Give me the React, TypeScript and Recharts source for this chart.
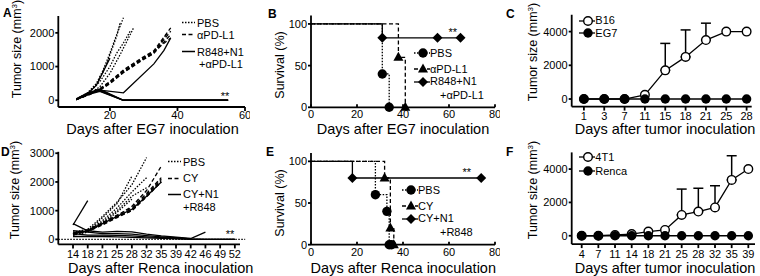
import { LineChart, Line, XAxis, YAxis, ErrorBar, ReferenceLine } from 'recharts'

const FONT = '"Liberation Sans", Arial, Helvetica, sans-serif'

// ---- A: EG7, single mice (day, tumor size mm3)
const A_PBS = [
  { days: [10, 13, 16, 18, 20, 22, 24], size: [30, 180, 500, 900, 1400, 1950, 2450] },
  { days: [10, 13, 16, 18, 20, 22, 23], size: [20, 150, 450, 850, 1350, 1900, 2300] },
  { days: [10, 14, 17, 20, 23, 25, 27], size: [20, 200, 400, 800, 1350, 1750, 2150] },
  { days: [10, 14, 17, 20, 22, 24, 26], size: [30, 250, 550, 1000, 1400, 1700, 2050] },
]
const A_APDL1 = [
  { days: [10, 14, 17, 20, 24, 29, 33, 38], size: [30, 220, 350, 560, 900, 1230, 1470, 2150] },
  { days: [10, 14, 17, 20, 24, 29, 33, 38], size: [20, 190, 320, 520, 850, 1180, 1420, 2050] },
  { days: [10, 14, 17, 20, 24, 29, 33, 38], size: [20, 170, 300, 490, 820, 1150, 1390, 1950] },
  { days: [10, 14, 17, 20, 24, 29, 33, 38], size: [30, 200, 330, 540, 880, 1200, 1450, 1850] },
  { days: [10, 14, 17, 20, 24, 29, 33, 37], size: [20, 180, 310, 510, 830, 1170, 1400, 2000] },
]
const A_COMBO = [
  { days: [10, 14, 17, 24, 33, 36, 38], size: [30, 200, 300, 220, 1080, 1480, 1850] },
  { days: [10, 14, 16, 20], size: [40, 250, 450, 1250] },
  { days: [10, 14, 17, 24, 55], size: [30, 230, 330, 0, 0] },
  { days: [10, 14, 17, 24, 55], size: [20, 200, 300, 0, 0] },
  { days: [10, 14, 17, 24, 55], size: [30, 240, 280, 0, 0] },
  { days: [10, 14, 17, 24, 55], size: [20, 180, 260, 0, 0] },
]

// ---- B: EG7 survival (day, % surviving)
const B_PBS = { t: [0, 31, 34], s: [100, 40, 0] }
const B_APDL1 = { t: [0, 38, 41], s: [100, 60, 0] }
const B_COMBO = { t: [0, 31, 55, 65], s: [100, 83.3, 83.3, 83.3] }

// ---- C: B16 vs EG7 growth
const C_DAYS = ['1', '3', '7', '11', '15', '18', '21', '25', '28']
const C_B16 = [0, 0, 0, 250, 1700, 2500, 3500, 4000, 4000]
const C_B16_SD = [null, null, null, null, 1600, 1600, 1000, null, null]
const C_EG7 = [0, 0, 0, 0, 0, 0, 0, 0, 0]

// ---- D: Renca, single mice (values at each measurement day)
const D_DAYS = ['14', '18', '21', '25', '28', '32', '35', '39', '42', '46', '49', '52']
const D_PBS = [
  [250, 350, 800, 1300, 1900, 2850],
  [200, 300, 750, 1250, 2200],
  [200, 300, 650, 1100, 1650, 2150],
  [150, 250, 550, 950, 1400],
  [200, 280, 600, 1000, 1500, 1800],
]
const D_CY = [
  [200, 320, 550, 800, 1050, 1550, 2100],
  [180, 300, 520, 780, 1000, 1500, 2050],
  [220, 340, 580, 850, 1100, 1600, 2150],
  [200, 300, 530, 820, 1150, 1700, 2550],
  [150, 280, 500, 760, 1000, 1480, 2000],
]
const D_COMBO = [
  [500, 1350],
  [200, 300, 550, 800, 1050, 1500, 2000],
  [550, 300, 250, 280, 260, 180, 120, 80, 30, 250],
  [300, 250, 200, 200, 180, 130, 90, 60, 20, 0, 0, 0],
  [200, 150, 150, 140, 120, 90, 60, 40, 10, 0, 0, 0],
  [100, 100, 100, 90, 70, 50, 40, 20, 0, 0, 0, 0],
]

// ---- E: Renca survival
const E_PBS = { t: [0, 28, 33, 34, 35], s: [100, 60, 40, 0, 0] }
const E_CY = { t: [0, 32, 34.5, 36], s: [100, 80, 20, 0] }
const E_COMBO = { t: [0, 18, 74], s: [100, 80, 80] }

// ---- F: 4T1 vs Renca growth
const F_DAYS = ['4', '7', '11', '14', '18', '21', '25', '28', '32', '35', '39']
const F_4T1 = [0, 0, 50, 100, 250, 350, 1250, 1450, 1700, 3350, 4000]
const F_4T1_SD = [null, null, null, null, null, null, 1550, 1400, 1300, 1450, null]
const F_RENCA = [0, 0, 0, 0, 0, 0, 0, 0, 0, 0, 0]

const DOTTED = '1.5 1.5'
const DASHED = '4 2.5'
const AX = { stroke: '#000', strokeWidth: 1.8 }
const TICK = { fill: '#000', fontSize: 11 }

const pts = (xs: number[], ys: number[]) => xs.map((x, i) => ({ x, y: ys[i] }))
const byIndex = (ys: number[]) => ys.map((y, i) => ({ x: i, y }))

function Marker({ cx, cy, shape }: { cx: number; cy: number; shape: string }) {
  if (shape === 'open') return <circle cx={cx} cy={cy} r={4.3} fill="#fff" stroke="#000" strokeWidth={1.4} />
  if (shape === 'tri') return <path d={`M${cx},${cy - 5.5}L${cx + 5},${cy + 3.5}L${cx - 5},${cy + 3.5}Z`} fill="#000" />
  if (shape === 'dia') return <path d={`M${cx},${cy - 5}L${cx + 5},${cy}L${cx},${cy + 5}L${cx - 5},${cy}Z`} fill="#000" />
  return <circle cx={cx} cy={cy} r={4.7} fill="#000" />
}

// survival curves: marker on every event, not on the start point
const eventDot = (shape: string) => (p: any) =>
  p.index === 0 ? <g key={`e${p.index}`} /> : <Marker key={`e${p.index}`} cx={p.cx} cy={p.cy} shape={shape} />
const allDot = (shape: string) => (p: any) => <Marker key={`a${p.index}`} cx={p.cx} cy={p.cy} shape={shape} />

function Txt({ x, y, size = 11, bold, center, children }: any) {
  return (
    <div
      style={{
        position: 'absolute', left: x, top: y, fontSize: size, lineHeight: 1, whiteSpace: 'nowrap',
        fontWeight: bold ? 700 : 400,
        transform: center ? 'translate(-50%,-50%)' : 'translateY(-50%)',
      }}
    >
      {children}
    </div>
  )
}

function VTxt({ x, y, children }: any) {
  return (
    <div
      style={{
        position: 'absolute', left: x, top: y, fontSize: 12.5, lineHeight: 1, whiteSpace: 'nowrap',
        transform: 'translate(-50%,-50%) rotate(-90deg)',
      }}
    >
      {children}
    </div>
  )
}

const Mm3 = () => (
  <>
    Tumor size (mm<span style={{ fontSize: 8, position: 'relative', top: -4 }}>3</span>)
  </>
)

function LineKey({ x, y, dash, label }: any) {
  return (
    <div style={{ position: 'absolute', left: x, top: y, transform: 'translateY(-50%)', display: 'flex', alignItems: 'center', fontSize: 11, lineHeight: 1, whiteSpace: 'nowrap' }}>
      <svg width={13} height={6} style={{ display: 'block' }}>
        <line x1={0} x2={13} y1={3} y2={3} stroke="#000" strokeWidth={1.5} strokeDasharray={dash} />
      </svg>
      <span style={{ marginLeft: 2 }}>{label}</span>
    </div>
  )
}

function MarkKey({ cx, y, dash, shape, label }: any) {
  return (
    <div style={{ position: 'absolute', left: cx - 9, top: y, transform: 'translateY(-50%)', display: 'flex', alignItems: 'center', fontSize: 11, lineHeight: 1, whiteSpace: 'nowrap' }}>
      <svg width={16} height={12} style={{ display: 'block' }}>
        <line x1={0} x2={16} y1={6} y2={6} stroke="#000" strokeWidth={1.3} strokeDasharray={dash} />
        <Marker cx={9} cy={6} shape={shape} />
      </svg>
      <span>{label}</span>
    </div>
  )
}

function Spaghetti({ left, top, width, xDomain, xTicks, xFmt, yDomain, yTicks, yWidth, mTop, mRight, xHeight, tickGap, groups, baseline }: any) {
  return (
    <div style={{ position: 'absolute', left, top }}>
      <LineChart width={width} height={138} margin={{ top: mTop, right: mRight, bottom: 0, left: 0 }}>
        <XAxis type="number" dataKey="x" domain={xDomain} ticks={xTicks} tickFormatter={xFmt} interval={0}
          axisLine={AX} tickLine={AX} tick={TICK} tickSize={4} tickMargin={tickGap} height={xHeight} />
        <YAxis type="number" dataKey="y" domain={yDomain} ticks={yTicks} interval={0} width={yWidth}
          axisLine={AX} tickLine={AX} tick={TICK} tickSize={3} tickMargin={1} />
        {baseline && (
          <ReferenceLine segment={baseline} ifOverflow="visible" stroke="#000" strokeWidth={1.2} strokeDasharray={DOTTED} />
        )}
        {groups.flatMap((g: any, gi: number) =>
          g.series.map((d: any[], si: number) => (
            <Line key={`${gi}-${si}`} data={d} dataKey="y" type="linear" stroke="#000" strokeWidth={1.3}
              strokeDasharray={g.dash} dot={false} activeDot={false} isAnimationActive={false} />
          ))
        )}
      </LineChart>
    </div>
  )
}

function Survival({ left, top, mTop, xHeight, curves }: any) {
  return (
    <div style={{ position: 'absolute', left, top }}>
      <LineChart width={250} height={138} margin={{ top: mTop, right: 5, bottom: 0, left: 0 }}>
        <XAxis type="number" dataKey="x" domain={[0, 80]} ticks={[0, 20, 40, 60, 80]} interval={0}
          axisLine={AX} tickLine={AX} tick={TICK} tickSize={-3} tickMargin={6} height={xHeight} />
        <YAxis type="number" dataKey="y" domain={[0, 110]} ticks={[0, 50, 100]} interval={0} width={61}
          axisLine={AX} tickLine={AX} tick={TICK} tickSize={3} tickMargin={1} />
        {curves.map((c: any, i: number) => (
          <Line key={i} data={pts(c.d.t, c.d.s)} dataKey="y" type="stepAfter" stroke="#000" strokeWidth={1.3}
            strokeDasharray={c.dash} dot={eventDot(c.shape)} activeDot={false} isAnimationActive={false} />
        ))}
      </LineChart>
    </div>
  )
}

function Growth({ top, mTop, xHeight, tickGap, days, a, aSd, b, yDomain }: any) {
  const data = days.map((_: string, i: number) => ({
    x: i, a: a[i], err: aSd[i] == null ? null : [0, aSd[i]], b: b[i],
  }))
  const n = days.length
  return (
    <div style={{ position: 'absolute', left: 500, top }}>
      <LineChart width={260} height={138} data={data} margin={{ top: mTop, right: n === 9 ? 8.3 : 5, bottom: 0, left: 0 }}>
        <XAxis type="number" dataKey="x" domain={n === 9 ? [-0.6, 8.25] : [-0.6, 10.4]} ticks={days.map((_: string, i: number) => i)}
          tickFormatter={(v: number) => days[v]} interval={0}
          axisLine={AX} tickLine={AX} tick={TICK} tickSize={4} tickMargin={tickGap} height={xHeight} />
        <YAxis type="number" domain={yDomain} ticks={[0, 2000, 4000]} interval={0} width={71.7}
          axisLine={AX} tickLine={AX} tick={TICK} tickSize={3} tickMargin={1} />
        <Line dataKey="a" type="linear" stroke="#000" strokeWidth={1.3} dot={allDot('open')} activeDot={false} isAnimationActive={false}>
          <ErrorBar dataKey="err" direction="y" width={5} stroke="#000" strokeWidth={1.5} />
        </Line>
        <Line dataKey="b" type="linear" stroke="#000" strokeWidth={1.3} dot={allDot('fill')} activeDot={false} isAnimationActive={false} />
      </LineChart>
    </div>
  )
}

export default function App() {
  const aGroups = [
    { dash: DOTTED, series: A_PBS.map((m) => pts(m.days, m.size)) },
    { dash: DASHED, series: A_APDL1.map((m) => pts(m.days, m.size)) },
    { dash: undefined, series: A_COMBO.map((m) => pts(m.days, m.size)) },
  ]
  const dGroups = [
    { dash: DOTTED, series: D_PBS.map(byIndex) },
    { dash: DASHED, series: D_CY.map(byIndex) },
    { dash: undefined, series: D_COMBO.map(byIndex) },
  ]
  return (
    <div style={{ position: 'absolute', left: 0, top: 0, width: 760, height: 276, background: '#fff', fontFamily: FONT, color: '#000', overflow: 'hidden' }}>
      {/* A */}
      <Spaghetti left={0} top={0} width={250} xDomain={[4.7, 60]} xTicks={[20, 40, 60]} yDomain={[-200, 2500]}
        yTicks={[0, 1000, 2000]} yWidth={58.3} mTop={16} mRight={5} xHeight={31} tickGap={0.5} groups={aGroups} />
      {/* B */}
      <Survival left={250} top={0} mTop={15.6} xHeight={30.7}
        curves={[
          { d: B_PBS, dash: DOTTED, shape: 'fill' },
          { d: B_APDL1, dash: DASHED, shape: 'tri' },
          { d: B_COMBO, dash: undefined, shape: 'dia' },
        ]} />
      {/* C */}
      <Growth top={0} mTop={14.75} xHeight={31.4} tickGap={1.2} days={C_DAYS} a={C_B16} aSd={C_B16_SD} b={C_EG7} yDomain={[-450, 5000]} />
      {/* D */}
      <Spaghetti left={0} top={138} width={250} xDomain={[-1, 11.35]} xTicks={D_DAYS.map((_, i) => i)}
        xFmt={(v: number) => D_DAYS[v]} yDomain={[-175, 3050]} yTicks={[0, 1000, 2000, 3000]} yWidth={58.3}
        mTop={13.8} mRight={10} xHeight={31.6} tickGap={1.5} groups={dGroups}
        baseline={[{ x: -1, y: 0 }, { x: 11.7, y: 0 }]} />
      {/* E */}
      <Survival left={250} top={138} mTop={15} xHeight={31.3}
        curves={[
          { d: E_PBS, dash: DOTTED, shape: 'fill' },
          { d: E_CY, dash: DASHED, shape: 'tri' },
          { d: E_COMBO, dash: undefined, shape: 'dia' },
        ]} />
      {/* F */}
      <Growth top={138} mTop={14.4} xHeight={31.9} tickGap={2} days={F_DAYS} a={F_4T1} aSd={F_4T1_SD} b={F_RENCA} yDomain={[-500, 5000]} />

      {/* panel letters */}
      <Txt x={3} y={13} size={12} bold>A</Txt>
      <Txt x={268} y={14} size={12} bold>B</Txt>
      <Txt x={506} y={14} size={12} bold>C</Txt>
      <Txt x={1} y={152} size={12} bold>D</Txt>
      <Txt x={266} y={152} size={12} bold>E</Txt>
      <Txt x={506} y={152} size={12} bold>F</Txt>

      {/* axis titles */}
      <VTxt x={17} y={49}><Mm3 /></VTxt>
      <VTxt x={280} y={65}>Survival (%)</VTxt>
      <VTxt x={533} y={52}><Mm3 /></VTxt>
      <VTxt x={15} y={190}><Mm3 /></VTxt>
      <VTxt x={280} y={203}>Survival (%)</VTxt>
      <VTxt x={533} y={190}><Mm3 /></VTxt>
      <Txt x={152.5} y={129} size={14.5} center>Days after EG7 inoculation</Txt>
      <Txt x={403} y={129} size={14.5} center>Days after EG7 inoculation</Txt>
      <Txt x={665} y={129} size={14.5} center>Days after tumor inoculation</Txt>
      <Txt x={160.7} y={267.5} size={14.5} center>Days after Renca inoculation</Txt>
      <Txt x={403.3} y={267.5} size={14.5} center>Days after Renca inoculation</Txt>
      <Txt x={665} y={267.5} size={14.5} center>Days after tumor inoculation</Txt>

      {/* significance */}
      <Txt x={225} y={96} center>**</Txt>
      <Txt x={452.7} y={32} center>**</Txt>
      <Txt x={230} y={234} center>**</Txt>
      <Txt x={466.7} y={172} center>**</Txt>

      {/* legends */}
      <LineKey x={182} y={22.7} dash={DOTTED} label="PBS" />
      <LineKey x={182} y={34.5} dash={DASHED} label="αPD-L1" />
      <LineKey x={182} y={51.5} label="R848+N1" />
      <Txt x={199} y={63.5}>+αPD-L1</Txt>

      <MarkKey cx={423} y={53.3} dash={DOTTED} shape="fill" label="PBS" />
      <MarkKey cx={423} y={69} dash={DASHED} shape="tri" label="αPD-L1" />
      <MarkKey cx={423} y={81.5} shape="dia" label="R848+N1" />
      <Txt x={440} y={95}>+αPD-L1</Txt>

      <MarkKey cx={588.3} y={20.7} shape="open" label="B16" />
      <MarkKey cx={588.3} y={33.3} shape="fill" label="EG7" />

      <LineKey x={168} y={161.7} dash={DOTTED} label="PBS" />
      <LineKey x={168} y={178.3} dash={DASHED} label="CY" />
      <LineKey x={168} y={194.3} label="CY+N1" />
      <Txt x={183} y={206.7}>+R848</Txt>

      <MarkKey cx={411} y={190.3} dash={DOTTED} shape="fill" label="PBS" />
      <MarkKey cx={411} y={206.3} dash={DASHED} shape="tri" label="CY" />
      <MarkKey cx={411} y={218.5} shape="dia" label="CY+N1" />
      <Txt x={440} y={232}>+R848</Txt>

      <MarkKey cx={588.3} y={157} shape="open" label="4T1" />
      <MarkKey cx={588.3} y={171.3} shape="fill" label="Renca" />
    </div>
  )
}
